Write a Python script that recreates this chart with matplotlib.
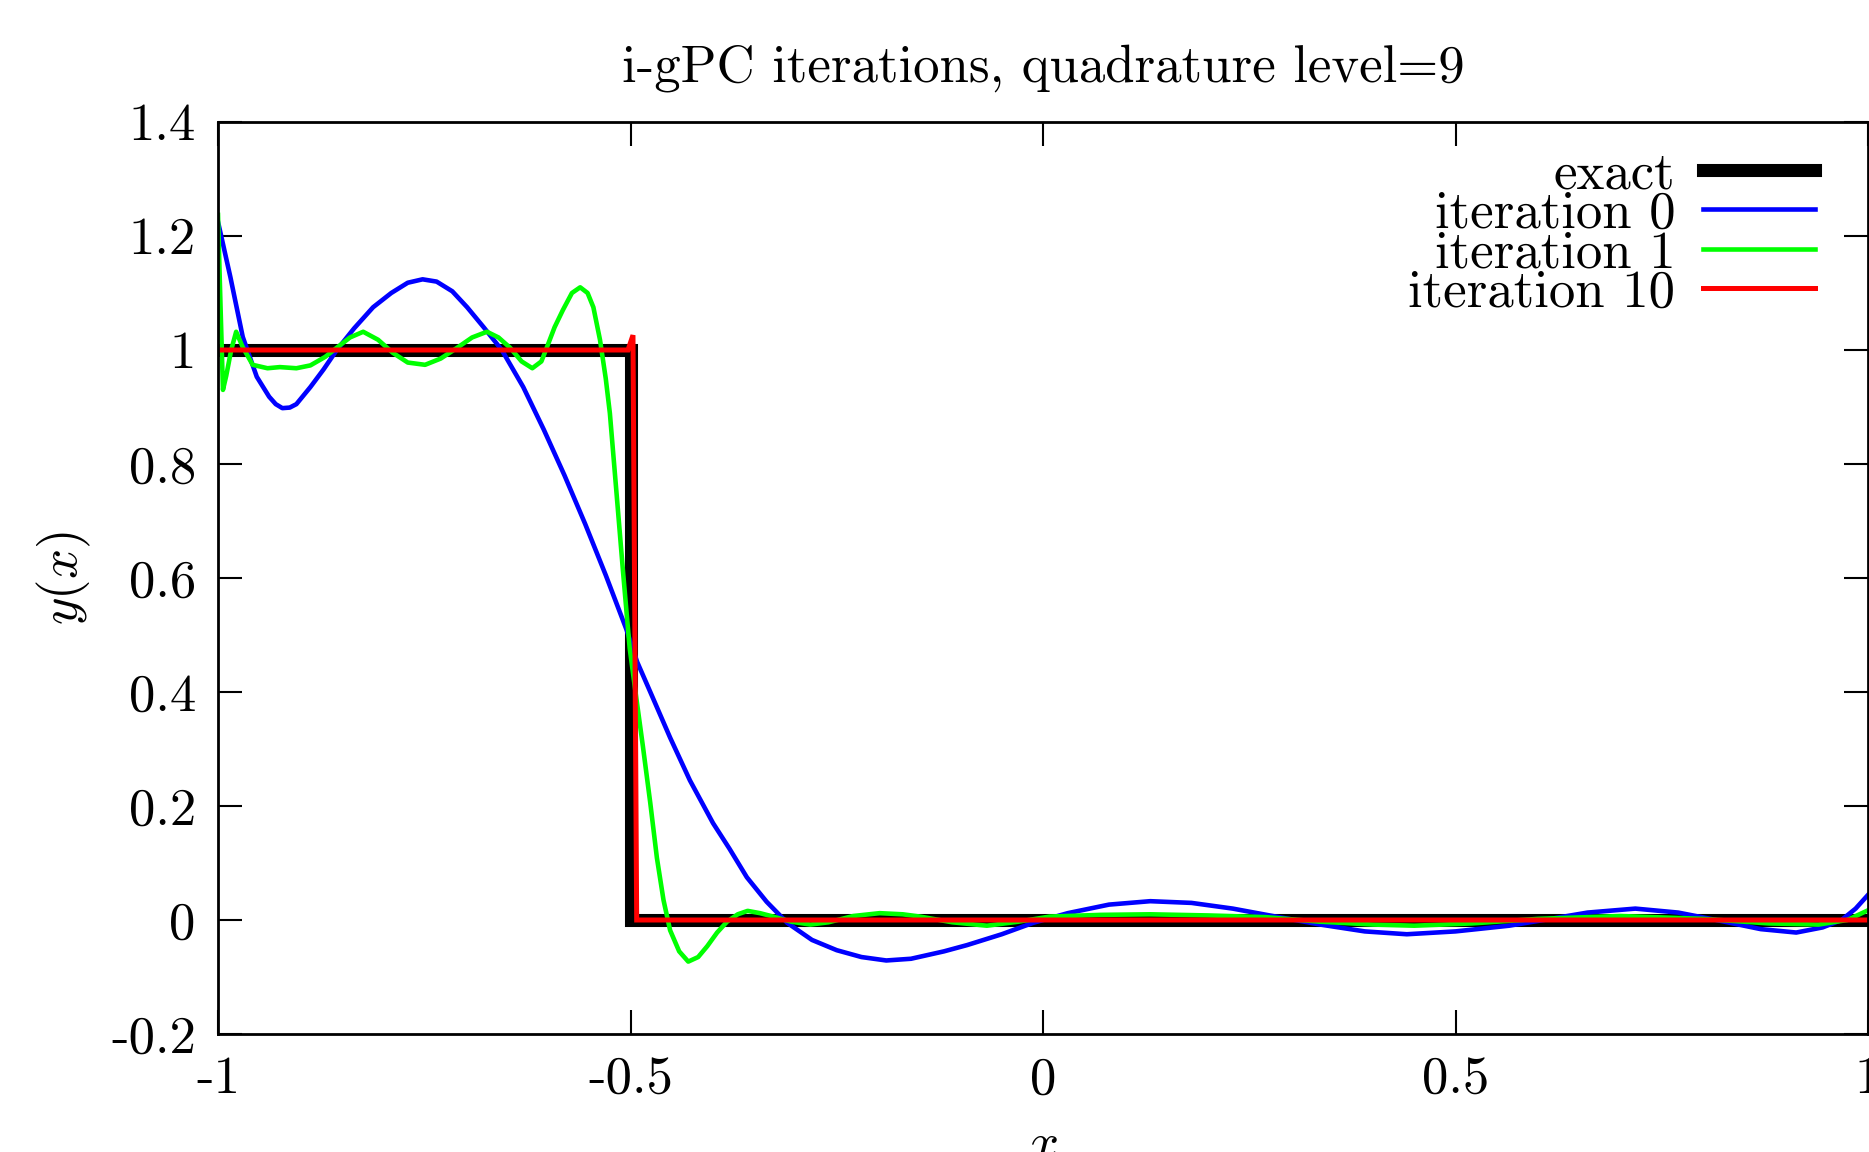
import matplotlib
matplotlib.use("Agg")
import matplotlib.pyplot as plt

plt.rcParams.update({
    "font.family": "cmr10",
    "mathtext.fontset": "cm",
    "axes.unicode_minus": False,
})

# ── exact solution: a step at x = -0.5 ──
exact_x = [-1.0, -0.5, -0.5, 1.0]
exact_y = [1.0, 1.0, 0.0, 0.0]

# ── iteration 0 ──
it0_x = [-1.0, -0.985, -0.970, -0.953, -0.938, -0.930, -0.922, -0.913, -0.905, -0.888,
         -0.872, -0.856, -0.835, -0.812, -0.790, -0.770, -0.752, -0.735, -0.716, -0.698,
         -0.678, -0.656, -0.630, -0.605, -0.580, -0.555, -0.530, -0.505, -0.492, -0.476,
         -0.452, -0.428, -0.400, -0.380, -0.359, -0.335, -0.310, -0.280, -0.250, -0.220,
         -0.190, -0.160, -0.120, -0.092, -0.050, -0.012, 0.030, 0.080, 0.130, 0.180,
         0.230, 0.271, 0.336, 0.390, 0.441, 0.500, 0.565, 0.607, 0.660, 0.718,
         0.770, 0.816, 0.870, 0.913, 0.945, 0.968, 0.985, 1.0]
it0_y = [1.225, 1.128, 1.023, 0.953, 0.918, 0.905, 0.898, 0.899, 0.905, 0.935,
         0.966, 1.0, 1.038, 1.075, 1.100, 1.118, 1.124, 1.120, 1.103, 1.075,
         1.040, 1.0, 0.935, 0.860, 0.780, 0.695, 0.605, 0.510, 0.453, 0.400,
         0.320, 0.245, 0.170, 0.125, 0.075, 0.032, -0.005, -0.035, -0.053, -0.065,
         -0.071, -0.068, -0.055, -0.044, -0.025, -0.005, 0.012, 0.027, 0.033, 0.030,
         0.020, 0.009, -0.008, -0.020, -0.025, -0.020, -0.010, 0.0, 0.013, 0.020,
         0.013, 0.0, -0.016, -0.022, -0.013, 0.0, 0.020, 0.044]

# ── iteration 1 ──
it1_x = [-1.0, -0.997, -0.994, -0.990, -0.984, -0.978, -0.970, -0.958, -0.940, -0.925,
         -0.905, -0.888, -0.870, -0.856, -0.840, -0.824, -0.806, -0.788, -0.770, -0.749,
         -0.730, -0.710, -0.692, -0.674, -0.660, -0.646, -0.632, -0.619, -0.608, -0.601,
         -0.592, -0.582, -0.571, -0.561, -0.552, -0.545, -0.537, -0.530, -0.525, -0.517,
         -0.509, -0.501, -0.493, -0.485, -0.476, -0.468, -0.460, -0.452, -0.441, -0.430,
         -0.418, -0.407, -0.395, -0.383, -0.370, -0.358, -0.343, -0.327, -0.305, -0.282,
         -0.260, -0.230, -0.198, -0.170, -0.149, -0.110, -0.068, -0.030, 0.008, 0.070,
         0.130, 0.200, 0.270, 0.336, 0.400, 0.450, 0.520, 0.600, 0.700, 0.800,
         0.880, 0.940, 0.975, 1.0]
it1_y = [1.237, 1.080, 0.930, 0.955, 1.000, 1.032, 1.005, 0.974, 0.968, 0.970,
         0.968, 0.973, 0.988, 1.004, 1.022, 1.032, 1.018, 0.995, 0.978, 0.974,
         0.985, 1.004, 1.022, 1.032, 1.022, 1.004, 0.980, 0.968, 0.980, 1.006,
         1.040, 1.070, 1.100, 1.110, 1.100, 1.075, 1.018, 0.950, 0.889, 0.750,
         0.610, 0.477, 0.390, 0.305, 0.205, 0.109, 0.035, -0.018, -0.055, -0.073,
         -0.065, -0.046, -0.022, -0.003, 0.010, 0.016, 0.012, 0.006, -0.003, -0.008,
         -0.004, 0.007, 0.012, 0.010, 0.006, -0.004, -0.010, -0.003, 0.006, 0.009,
         0.010, 0.008, 0.005, -0.003, -0.008, -0.010, -0.006, 0.002, 0.007, 0.002,
         -0.006, -0.008, 0.0, 0.017]

# ── iteration 10 ──
it10_x = [-1.0, -0.503, -0.497, -0.4925, 1.0]
it10_y = [1.0, 1.0, 1.026, 0.0, 0.0]

xticks = [-1, -0.5, 0, 0.5, 1]
xtick_labels = ["-1", "-0.5", "0", "0.5", "1"]
yticks = [-0.2, 0, 0.2, 0.4, 0.6, 0.8, 1.0, 1.2, 1.4]
ytick_labels = ["-0.2", "0", "0.2", "0.4", "0.6", "0.8", "1", "1.2", "1.4"]

FS = 38
W, H = 1869, 1152
fig = plt.figure(figsize=(W / 100, H / 100), dpi=100)
ax = fig.add_axes([218 / W, 1 - 1034 / H, 1650 / W, 912 / H])

ax.plot(exact_x, exact_y, color="black", lw=9.4, solid_joinstyle="miter", label="exact")
ax.plot(it0_x, it0_y, color="#0000ff", lw=3.3, label="iteration 0")
ax.plot(it1_x, it1_y, color="#00ff00", lw=3.3, label="iteration 1")
ax.plot(it10_x, it10_y, color="#ff0000", lw=3.6, solid_joinstyle="miter", label="iteration 10")

ax.set_xlim(-1, 1)
ax.set_ylim(-0.2, 1.4)
ax.set_xticks(xticks)
ax.set_xticklabels(xtick_labels)
ax.set_yticks(yticks)
ax.set_yticklabels(ytick_labels)
ax.tick_params(direction="in", length=17, width=1.5, top=True, right=True,
               labelsize=FS, pad=16)
for sp in ax.spines.values():
    sp.set_linewidth(2)

ax.set_title("i-gPC iterations, quadrature level=9", fontsize=FS, pad=29)
ax.set_xlabel("$x$", fontsize=FS)
ax.set_ylabel("$y(x)$", fontsize=FS)
ax.xaxis.set_label_coords(0.5, -0.096)
ax.yaxis.set_label_coords(-0.076, 0.5)

ax.legend(loc="upper right", bbox_to_anchor=(0.968, 0.968), frameon=False,
          markerfirst=False, fontsize=FS, handlelength=2.13, handletextpad=0.52,
          labelspacing=-0.14, borderpad=0, borderaxespad=0)

fig.savefig("out.png", dpi=100)
